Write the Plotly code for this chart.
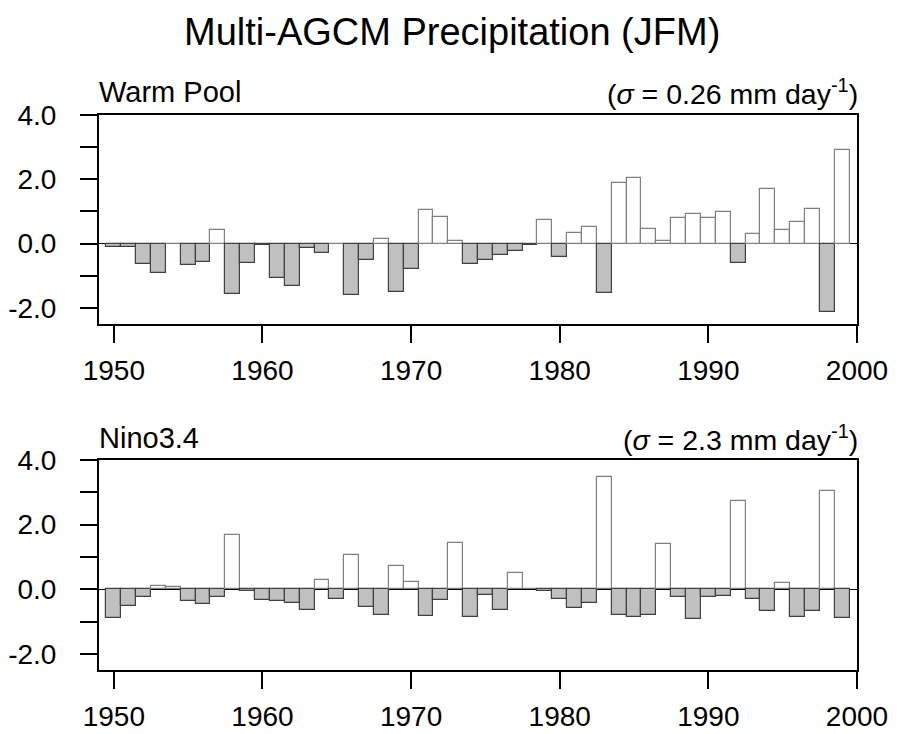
import plotly.graph_objects as go

years = list(range(1950, 2000))

warm_pool = [
    -0.10, -0.12, -0.64, -0.92, 0.00, -0.67, -0.57, 0.42, -1.57, -0.61,
    -0.04, -1.08, -1.31, -0.14, -0.28, 0.00, -1.60, -0.52, 0.15, -1.51,
    -0.78, 1.06, 0.84, 0.07, -0.62, -0.52, -0.35, -0.23, -0.04, 0.74,
    -0.41, 0.32, 0.52, -1.53, 1.87, 2.05, 0.46, 0.07, 0.80, 0.93,
    0.80, 0.99, -0.60, 0.31, 1.70, 0.42, 0.67, 1.08, -2.13, 2.91,
]

nino34 = [
    -0.88, -0.52, -0.25, 0.11, 0.06, -0.35, -0.45, -0.25, 1.67, -0.05,
    -0.33, -0.35, -0.42, -0.63, 0.29, -0.29, 1.07, -0.56, -0.80, 0.72,
    0.23, -0.82, -0.34, 1.42, -0.85, -0.18, -0.64, 0.49, 0.00, -0.07,
    -0.30, -0.57, -0.43, 3.47, -0.80, -0.85, -0.79, 1.41, -0.23, -0.92,
    -0.24, -0.21, 2.73, -0.31, -0.66, 0.20, -0.87, -0.66, 3.03, -0.88,
]

title_text = "Multi-AGCM Precipitation (JFM)"
panel_names = ["Warm Pool", "Nino3.4"]
sigma_texts = ["(<i>σ</i> = 0.26 mm day<sup>-1</sup>)", "(<i>σ</i> = 2.3 mm day<sup>-1</sup>)"]

x_ticks = [1950, 1960, 1970, 1980, 1990, 2000]
y_tickvals = [-2, 0, 2, 4]
y_ticktext = ["-2.0", "0.0", "2.0", "4.0"]
y_minor_tickvals = [-1, 1, 3]

FONT = "Liberation Sans, Arial, Helvetica, sans-serif"
POS_FILL, NEG_FILL = "#ffffff", "#c0c0c0"
POS_LINE, NEG_LINE = "#808080", "#404040"

W, H = 904, 734
ML, MR, MT, MB = 99, 47, 115, 64

fig = go.Figure()

series = [warm_pool, nino34]
for i, vals in enumerate(series):
    xa = "x" if i == 0 else "x2"
    ya = "y" if i == 0 else "y2"
    fig.add_trace(go.Bar(
        x=years, y=vals, width=1.0,
        marker=dict(
            color=[POS_FILL if v >= 0 else NEG_FILL for v in vals],
            line=dict(color=[POS_LINE if v >= 0 else NEG_LINE for v in vals], width=1.2),
        ),
        xaxis=xa, yaxis=ya, showlegend=False, hoverinfo="x+y",
    ))

axis_common = dict(
    showline=True, linecolor="black", linewidth=2, mirror=True,
    ticks="outside", ticklen=17, tickwidth=2, tickcolor="black",
    showgrid=False, automargin=False,
    tickfont=dict(family=FONT, size=28, color="black"),
)

H_plot = H - MT - MB
def py(pix):
    return (H - MB - pix) / H_plot
def px(pix):
    return (pix - ML) / (W - ML - MR)

domains = [[py(324), 1.0], [0.0, py(460)]]
for i in range(2):
    sfx = "" if i == 0 else "2"
    fig.layout["xaxis" + sfx] = dict(
        axis_common, range=[1949, 2000], tickvals=x_ticks,
        ticktext=[str(t) for t in x_ticks], zeroline=False,
        anchor="y" + sfx, domain=[0, 1], ticklabelstandoff=3,
    )
    fig.layout["yaxis" + sfx] = dict(
        axis_common, range=[-2.5, 4.0], tickvals=y_tickvals, ticktext=y_ticktext,
        minor=dict(tickvals=y_minor_tickvals, ticks="outside", ticklen=17,
                   tickwidth=2, tickcolor="black", showgrid=False),
        zeroline=True, zerolinecolor="black", zerolinewidth=1,
        anchor="x" + sfx, domain=domains[i], ticklabelstandoff=18,
    )

fig.update_layout(
    width=W, height=H,
    margin=dict(l=ML, r=MR, t=MT, b=MB),
    paper_bgcolor="white", plot_bgcolor="white",
    bargap=0,
)

fig.add_annotation(text=title_text, x=px(451.5), xref="paper", y=py(32), yref="paper",
                   xanchor="center", yanchor="middle", showarrow=False,
                   font=dict(family=FONT, size=38, color="black"))
label_y = [92, 438]
for i in range(2):
    fig.add_annotation(text=panel_names[i], x=px(97), xref="paper", y=py(label_y[i]), yref="paper",
                       xanchor="left", yanchor="middle", showarrow=False,
                       font=dict(family=FONT, size=29, color="black"))
    fig.add_annotation(text=sigma_texts[i], x=px(860), xref="paper", y=py(label_y[i]), yref="paper",
                       xanchor="right", yanchor="middle", showarrow=False,
                       font=dict(family=FONT, size=28.5, color="black"))

fig.write_html("out.html")
